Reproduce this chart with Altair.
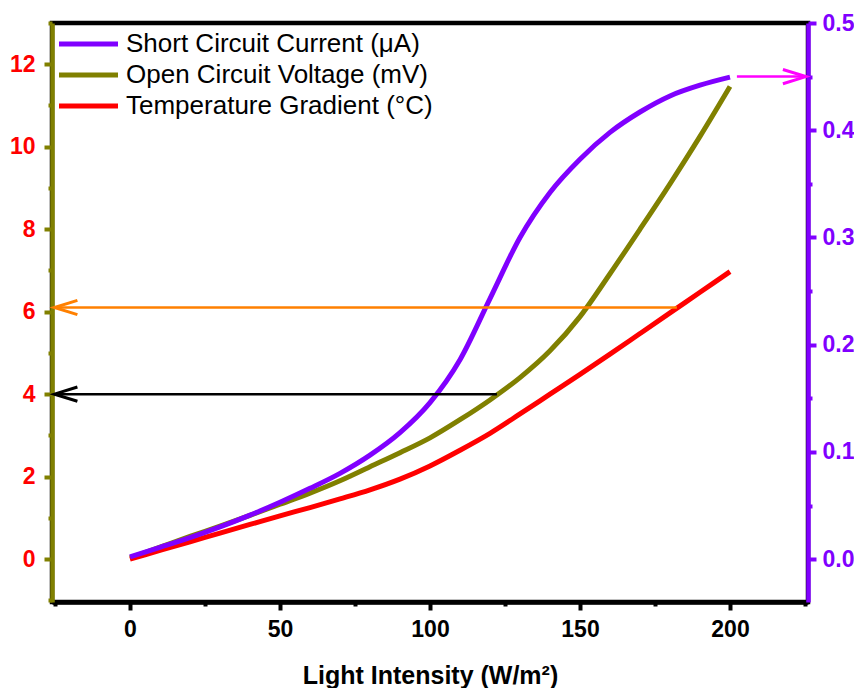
import altair as alt
import pandas as pd

# ---- data ----
intensity = [0, 10, 20, 30, 40, 50, 60, 70, 80, 90, 100,
             110, 120, 130, 140, 150, 160, 170, 180, 190, 200]
current_uA = [0.002, 0.011, 0.020, 0.030, 0.041, 0.053, 0.066, 0.080, 0.097, 0.118, 0.146,
              0.186, 0.243, 0.300, 0.342, 0.373, 0.398, 0.417, 0.432, 0.442, 0.4495]
voltage_mV = [0.03, 0.29, 0.55, 0.80, 1.06, 1.33, 1.60, 1.90, 2.24, 2.58, 2.94,
              3.38, 3.86, 4.40, 5.05, 5.88, 6.92, 8.00, 9.10, 10.25, 11.46]
temperature_C = [0.0, 0.21, 0.42, 0.63, 0.84, 1.05, 1.25, 1.46, 1.68, 1.94, 2.26,
                 2.64, 3.05, 3.52, 4.00, 4.48, 4.97, 5.47, 5.97, 6.47, 6.97]

series_names = ["Short Circuit Current (μA)", "Open Circuit Voltage (mV)",
                "Temperature Gradient (°C)"]
x_title = "Light Intensity (W/m²)"

# annotation arrows: (y on left axis, start x, tip x)
arrow_y = [6.1, 4.0, 11.7]
arrow_start = [182.3, 122.3, 202.3]
arrow_tip = [-25.2, -25.2, 225.3]

x_ticks = [-25, 0, 25, 50, 75, 100, 125, 150, 175, 200, 225]
left_ticks = list(range(-1, 14))
right_ticks = [0.0, 0.05, 0.1, 0.15, 0.2, 0.25, 0.3, 0.35, 0.4, 0.45, 0.5]

# ---- styling ----
PURPLE = "#8000FF"
OLIVE = "#808000"
RED = "#FF0000"
arrow_colors = ["#FF8000", "#000000", "#FF00FF"]
FONT = "Liberation Sans"

x_scale = alt.Scale(domain=[-26, 226], nice=False, zero=False)
left_domain = [-1.04, 13.0]
right_scale = alt.Scale(domain=[-0.04, 0.5], nice=False, zero=False)

x_axis = alt.Axis(
    values=x_ticks, title=x_title, grid=False,
    labelExpr="datum.value % 50 == 0 ? datum.label : ''",
    tickSize={"condition": {"test": "datum.value % 50 != 0", "value": 4}, "value": 8},
    domainColor="black", domainWidth=4.5, tickColor="black", tickWidth=4,
    labelColor="black", labelFont=FONT, labelFontSize=23, labelFontWeight="bold",
    labelPadding=8, titleFont=FONT, titleFontSize=25, titleFontWeight="bold",
    titleColor="black", titlePadding=22,
)
left_axis = alt.Axis(
    values=left_ticks, title=None, grid=False, orient="left",
    labelExpr="datum.value % 2 == 0 ? datum.label : ''",
    tickSize={"condition": {"test": "datum.value % 2 != 0", "value": 4}, "value": 8},
    domainColor=OLIVE, domainWidth=4.5, tickColor=OLIVE, tickWidth=4,
    labelColor=RED, labelFont=FONT, labelFontSize=23, labelFontWeight="bold",
    labelPadding=9,
)
right_axis = alt.Axis(
    values=right_ticks, title=None, grid=False, orient="right",
    labelExpr="round(datum.value * 100) % 10 == 0 ? format(datum.value, '.1f') : ''",
    tickSize={"condition": {"test": "round(datum.value * 100) % 10 != 0", "value": 4}, "value": 8},
    domainColor=PURPLE, domainWidth=4.5, tickColor=PURPLE, tickWidth=4,
    labelColor=PURPLE, labelFont=FONT, labelFontSize=23, labelFontWeight="bold",
    labelPadding=6,
)

color = alt.Color(
    "series:N",
    scale=alt.Scale(domain=series_names, range=[PURPLE, OLIVE, RED]),
    sort=series_names,
    legend=alt.Legend(
        orient="none", legendX=-1, legendY=8, title=None, padding=0,
        symbolType="M-1,0H10.8", symbolSize=100, symbolStrokeWidth=5,
        labelFont=FONT, labelFontSize=26, labelColor="black", labelOffset=49,
        rowPadding=5, labelLimit=400,
    ),
)

df_cur = pd.DataFrame({"x": intensity, "y": current_uA, "series": series_names[0]})
df_left = pd.concat([
    pd.DataFrame({"x": intensity, "y": voltage_mV, "series": series_names[1]}),
    pd.DataFrame({"x": intensity, "y": temperature_C, "series": series_names[2]}),
])

line_kw = dict(strokeWidth=5, interpolate="monotone", strokeCap="butt")

left_lines = alt.Chart(df_left).mark_line(**line_kw).encode(
    x=alt.X("x:Q", scale=x_scale, axis=x_axis),
    y=alt.Y("y:Q", scale=alt.Scale(domain=left_domain, nice=False, zero=False), axis=left_axis),
    color=color,
    detail="series:N",
)

cur_layer = alt.Chart(df_cur).mark_line(**line_kw).encode(
    x=alt.X("x:Q", scale=x_scale, axis=x_axis),
    y=alt.Y("y:Q", scale=right_scale, axis=right_axis),
    color=color,
)

arrow_layers = []
for i in range(len(arrow_y)):
    adf = pd.DataFrame({"x": [arrow_start[i]], "x2": [arrow_tip[i]], "y": [arrow_y[i]],
                        "tip": [arrow_tip[i]]})
    yenc = alt.Y("y:Q", scale=alt.Scale(domain=left_domain, nice=False, zero=False), axis=None)
    shaft = alt.Chart(adf).mark_rule(strokeWidth=2.5, color=arrow_colors[i]).encode(
        x=alt.X("x:Q", scale=x_scale, axis=x_axis),
        x2="x2:Q",
        y=yenc,
    )
    pointing_right = arrow_tip[i] > arrow_start[i]
    path = "M-2,-0.62L0,0L-2,0.62" if pointing_right else "M2,-0.62L0,0L2,0.62"
    head = alt.Chart(adf).mark_point(
        shape=path, size=529, filled=False, strokeWidth=3, opacity=1,
        color=arrow_colors[i], strokeJoin="miter",
    ).encode(
        x=alt.X("tip:Q", scale=x_scale, axis=x_axis),
        y=yenc,
    )
    arrow_layers += [shaft, head]

arrows = alt.layer(*arrow_layers)

chart = alt.layer(left_lines, cur_layer, arrows).resolve_scale(y="independent").properties(
    width=756, height=579,
    autosize=alt.AutoSizeParams(type="none"),
    padding={"left": 44, "top": 15, "right": 46, "bottom": 86},
).configure_view(stroke="black", strokeWidth=4.5).configure_axis(labelFlush=False)

chart.save("out.html", embed_options={"renderer": "svg", "actions": False})
